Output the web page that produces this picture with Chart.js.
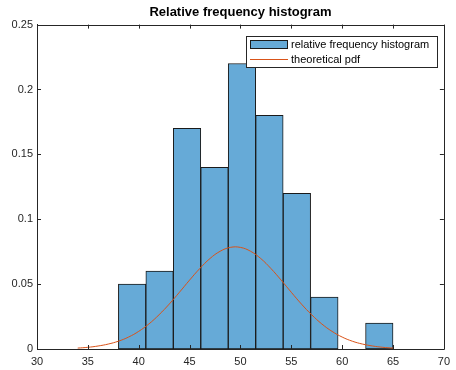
<!DOCTYPE html>
<html>
<head>
<meta charset="utf-8">
<script src="https://cdn.jsdelivr.net/npm/chart.js@4"></script>
<style>
  html, body { margin: 0; padding: 0; background: #fff; }
  #wrap { width: 456px; height: 370px; }
</style>
</head>
<body>
<div id="wrap"><canvas id="histChart"></canvas></div>
<script>
// histogram bins (edges) and relative frequencies
const binEdges = [38, 40.7, 43.4, 46.1, 48.8, 51.5, 54.2, 56.9, 59.6, 62.3, 65];
const relFreq = [0.05, 0.06, 0.17, 0.14, 0.22, 0.18, 0.12, 0.04, null, 0.02];

// theoretical pdf
const pdfX = [34, 35, 36, 37, 38, 39, 40, 41, 42, 43, 44, 45, 46, 47, 48, 49,
              50, 51, 52, 53, 54, 55, 56, 57, 58, 59, 60, 61, 62, 63, 64, 65];
const pdfY = [0.0007, 0.0013, 0.0023, 0.0038, 0.0060, 0.0092, 0.0136, 0.0193,
              0.0264, 0.0346, 0.0437, 0.0531, 0.0620, 0.0697, 0.0753, 0.0783,
              0.0783, 0.0753, 0.0697, 0.0620, 0.0531, 0.0437, 0.0346, 0.0264,
              0.0193, 0.0136, 0.0092, 0.0060, 0.0038, 0.0023, 0.0013, 0.0007];

const xTicks = [30, 35, 40, 45, 50, 55, 60, 65, 70];
const yTicks = [0, 0.05, 0.1, 0.15, 0.2, 0.25];

const barColor = '#66aad7';
const pdfColor = '#d95319';
const axisColor = '#262626';

const barData = relFreq.map((v, i) => ({ x: (binEdges[i] + binEdges[i + 1]) / 2, y: v }));
const lineData = pdfX.map((x, i) => ({ x: x, y: pdfY[i] }));

// MATLAB-like box with inward ticks, plus the boxed legend
const boxPlugin = {
  id: 'boxPlugin',
  afterDraw(chart) {
    const c = chart.ctx;
    const a = chart.chartArea;
    const xs = chart.scales.x, ys = chart.scales.y;
    c.save();
    c.strokeStyle = axisColor;
    c.lineWidth = 1;
    c.beginPath();
    c.rect(Math.round(a.left) + 0.5, Math.round(a.top) + 0.5,
           Math.round(a.right - a.left), Math.round(a.bottom - a.top));
    const tl = 4;
    xTicks.forEach(t => {
      const px = Math.round(xs.getPixelForValue(t)) + 0.5;
      c.moveTo(px, a.bottom); c.lineTo(px, a.bottom - tl);
      c.moveTo(px, a.top); c.lineTo(px, a.top + tl);
    });
    yTicks.forEach(t => {
      const py = Math.round(ys.getPixelForValue(t)) + 0.5;
      c.moveTo(a.left, py); c.lineTo(a.left + tl, py);
      c.moveTo(a.right, py); c.lineTo(a.right - tl, py);
    });
    c.stroke();

    // legend
    const lx = 246.5, ly = 36.5, lw = 191, lh = 31;
    c.fillStyle = '#fff';
    c.fillRect(lx, ly, lw, lh);
    c.strokeStyle = '#262626';
    c.strokeRect(lx, ly, lw, lh);
    c.fillStyle = barColor;
    c.fillRect(250, 40, 38, 8);
    c.strokeStyle = '#1a1a1a';
    c.strokeRect(250.5, 40.5, 37, 8);
    c.strokeStyle = pdfColor;
    c.beginPath();
    c.moveTo(250, 59.5); c.lineTo(288, 59.5);
    c.stroke();
    c.fillStyle = '#000';
    c.font = '11px "Liberation Sans", Arial, sans-serif';
    c.textBaseline = 'middle';
    c.textAlign = 'left';
    c.fillText('relative frequency histogram', 291, 45);
    c.fillText('theoretical pdf', 291, 59.5);
    c.restore();
  }
};

const ctx = document.getElementById('histChart').getContext('2d');
const histChart = new Chart(ctx, {
  type: 'bar',
  data: {
    datasets: [
      {
        type: 'bar',
        label: 'relative frequency histogram',
        data: barData,
        backgroundColor: barColor,
        borderColor: '#1a1a1a',
        borderWidth: 1,
        borderSkipped: false,
        barPercentage: 1,
        categoryPercentage: 1,
        order: 1
      },
      {
        type: 'line',
        label: 'theoretical pdf',
        data: lineData,
        borderColor: pdfColor,
        borderWidth: 1,
        pointRadius: 0,
        tension: 0.4,
        fill: false,
        order: 0
      }
    ]
  },
  options: {
    responsive: true,
    maintainAspectRatio: false,
    animation: false,
    layout: { padding: { left: 0, right: 9, top: 0, bottom: 0 } },
    plugins: {
      legend: { display: false },
      tooltip: { enabled: false },
      title: {
        display: true,
        text: 'Relative frequency histogram',
        fullSize: false,
        color: '#000',
        font: { family: '"Liberation Sans", Arial, sans-serif', size: 13, weight: 'bold' },
        padding: { top: 5, bottom: 4 }
      }
    },
    scales: {
      x: {
        type: 'linear',
        min: 30,
        max: 70,
        offset: false,
        grid: { display: false, offset: false, drawTicks: false },
        border: { display: true, color: axisColor },
        ticks: {
          stepSize: 5,
          padding: 6,
          color: axisColor,
          maxRotation: 0,
          autoSkip: false,
          font: { family: '"Liberation Sans", Arial, sans-serif', size: 11 }
        },
        afterFit: s => { s.height = 21; }
      },
      y: {
        min: 0,
        max: 0.25,
        grid: { display: false, drawTicks: false },
        border: { display: true, color: axisColor },
        ticks: {
          stepSize: 0.05,
          padding: 4,
          color: axisColor,
          font: { family: '"Liberation Sans", Arial, sans-serif', size: 11 },
          callback: v => String(+v.toFixed(2))
        },
        afterFit: s => { s.width = 37; }
      }
    }
  },
  plugins: [boxPlugin]
});
</script>
</body>
</html>
